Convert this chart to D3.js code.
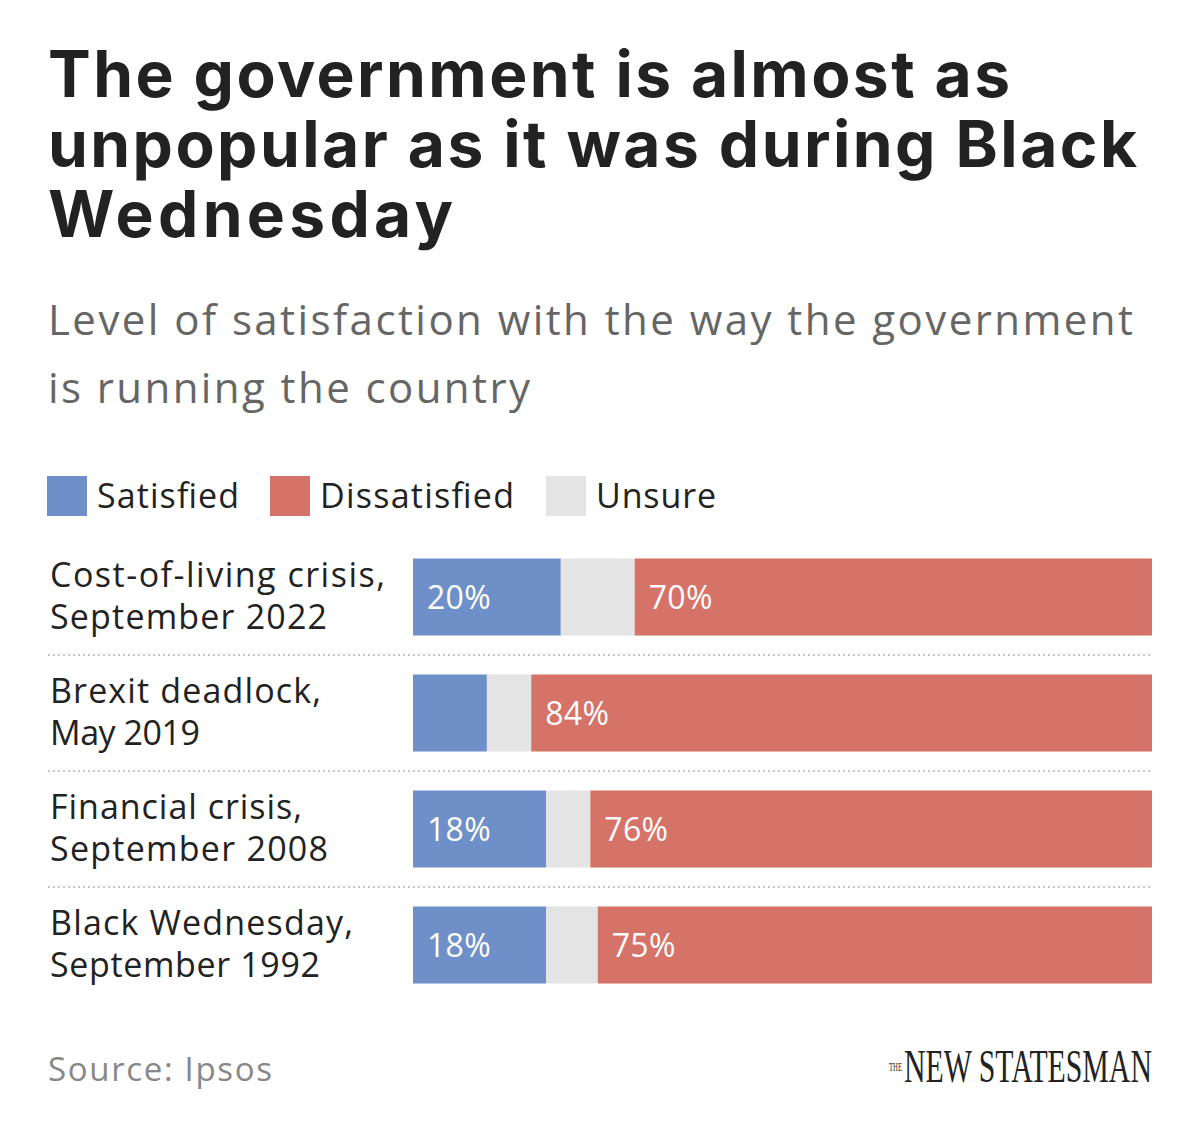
<!DOCTYPE html>
<html><head><meta charset="utf-8">
<script src="https://cdn.jsdelivr.net/npm/d3@7"></script>
<style>body{margin:0;background:#fff;}</style>
</head><body>
<script>
const categories = [
  ["Cost-of-living crisis,", "September 2022"],
  ["Brexit deadlock,", "May 2019"],
  ["Financial crisis,", "September 2008"],
  ["Black Wednesday,", "September 1992"]
];
const satisfied = [20, 10, 18, 18];
const unsure = [10, 6, 6, 7];
const dissatisfied = [70, 84, 76, 75];
const showSatLabel = [true, false, true, true];
const seriesNames = ["Satisfied", "Dissatisfied", "Unsure"];
const colors = {Satisfied: "#6f8fc8", Dissatisfied: "#d57368", Unsure: "#e4e4e4"};

// measured widths of the reference text lines (layout)
const textWidths = {
  "The government is almost as": 962, "unpopular as it was during Black": 1089, "Wednesday": 405,
  "Level of satisfaction with the way the government": 1085, "is running the country": 482,
  "Satisfied": 142, "Dissatisfied": 194, "Unsure": 120,
  "Cost-of-living crisis,": 335, "September 2022": 277, "Brexit deadlock,": 271, "May 2019": 150,
  "Financial crisis,": 252, "September 2008": 278, "Black Wednesday,": 303, "September 1992": 270,
  "Source: Ipsos": 224
};
function fit(sel) {
  sel.each(function() {
    const t = this.textContent;
    if (textWidths[t]) d3.select(this).attr("textLength", textWidths[t]).attr("lengthAdjust", "spacing");
  });
}

const W = 1200, H = 1148;
const svg = d3.select("body").append("svg").attr("width", W).attr("height", H);
const font = "'Open Sans', sans-serif";

// Title
const title = ["The government is almost as", "unpopular as it was during Black", "Wednesday"];
svg.selectAll(".title").data(title).join("text")
  .attr("x", 48).attr("y", (d, i) => 97 + i * 70)
  .attr("font-family", "Inter, sans-serif").attr("font-weight", 700)
  .attr("font-size", 64).attr("fill", "#222")
  .text(d => d).call(fit);

const subtitle = ["Level of satisfaction with the way the government", "is running the country"];
svg.selectAll(".sub").data(subtitle).join("text")
  .attr("x", 48).attr("y", (d, i) => 335 + i * 68)
  .attr("font-family", font).attr("font-size", 42).attr("fill", "#666")
  .text(d => d).call(fit);

// Legend
const legendX = [47, 270, 546];
const lg = svg.selectAll(".lg").data(seriesNames).join("g")
  .attr("transform", (d, i) => `translate(${legendX[i]},476)`);
lg.append("rect").attr("width", 40).attr("height", 40).attr("fill", d => colors[d]);
lg.append("text").attr("x", 50).attr("y", 32)
  .attr("font-family", font).attr("font-size", 34).attr("fill", "#222").text(d => d).call(fit);

// Scales
const x = d3.scaleLinear().domain([0, 100]).range([413, 1152]);
const y = d3.scaleBand().domain(d3.range(categories.length)).range([539, 1003]).paddingInner(0.336).paddingOuter(0.168);

const rows = categories.map((c, i) => {
  const segs = [
    {key: "Satisfied", x0: 0, x1: satisfied[i], label: showSatLabel[i] ? satisfied[i] + "%" : ""},
    {key: "Unsure", x0: satisfied[i], x1: satisfied[i] + unsure[i], label: ""},
    {key: "Dissatisfied", x0: satisfied[i] + unsure[i], x1: satisfied[i] + unsure[i] + dissatisfied[i], label: dissatisfied[i] + "%"}
  ];
  return {i, c, segs};
});

const row = svg.selectAll(".row").data(rows).join("g");
row.selectAll("rect").data(d => d.segs.map(s => ({...s, i: d.i}))).join("rect")
  .attr("x", d => x(d.x0)).attr("width", d => x(d.x1) - x(d.x0))
  .attr("y", d => y(d.i)).attr("height", y.bandwidth())
  .attr("fill", d => colors[d.key]);
row.selectAll(".vl").data(d => d.segs.filter(s => s.label).map(s => ({...s, i: d.i}))).join("text")
  .attr("x", d => x(d.x0) + 14).attr("y", d => y(d.i) + y.bandwidth() / 2 + 12)
  .attr("font-family", font).attr("font-size", 32).attr("fill", "#fff")
  .attr("letter-spacing", 0.3).text(d => d.label);

row.selectAll(".cl").data(d => d.c.map((t, k) => ({t, k, i: d.i}))).join("text")
  .attr("x", 50).attr("y", d => y(d.i) + 29 + d.k * 42)
  .attr("font-family", font).attr("font-size", 34).attr("fill", "#222").text(d => d.t).call(fit);

// Separators
svg.selectAll(".sep").data(d3.range(1, categories.length)).join("line")
  .attr("x1", 48).attr("x2", 1152)
  .attr("y1", d => y(d) - (y.step() - y.bandwidth()) / 2).attr("y2", d => y(d) - (y.step() - y.bandwidth()) / 2)
  .attr("stroke", "#c8c8c8").attr("stroke-width", 2).attr("stroke-dasharray", "2,3");

// Source
svg.append("text").attr("x", 48).attr("y", 1081)
  .attr("font-family", font).attr("font-size", 33).attr("fill", "#888").text("Source: Ipsos").call(fit);

// Logo
const logo = svg.append("g");
const the = logo.append("text").attr("font-family", "'Liberation Serif', serif").attr("font-size", 12)
  .attr("fill", "#222").text("THE");
const tw = the.node().getComputedTextLength();
the.attr("transform", `translate(889,1071) scale(${13 / tw},1)`);
const ns = logo.append("text").attr("font-family", "'Liberation Serif', serif").attr("font-size", 47)
  .attr("fill", "#222").text("NEW STATESMAN");
const nw = ns.node().getComputedTextLength();
ns.attr("transform", `translate(904,1082) scale(${248 / nw},1)`);
</script>
</body></html>
